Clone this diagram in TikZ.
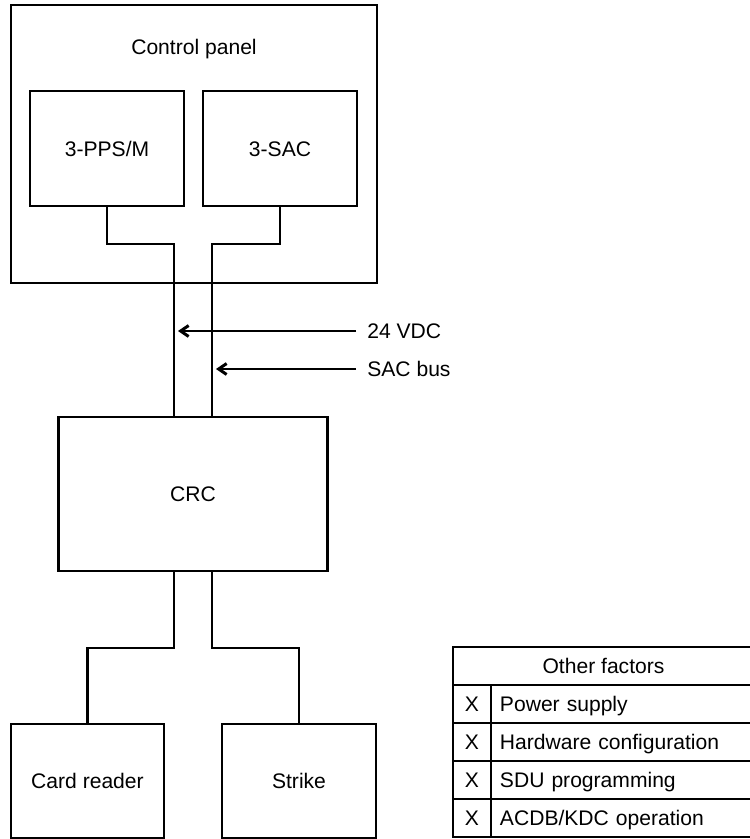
\documentclass[tikz,border=0pt]{standalone}
\usepackage{fontspec}
\setmainfont{Liberation Sans}
\usetikzlibrary{arrows.meta,positioning,calc}

\begin{document}
\begin{tikzpicture}[
  x=0.02cm, y=-0.02cm,
  txt/.style={font=\fontsize{12}{14}\selectfont, text height=8.6pt, text depth=0pt},
  box/.style={draw, rectangle, txt, line width=0.05cm, outer sep=0pt,
              minimum width=3.08cm, minimum height=2.3cm},
  cell/.style={box, minimum height=0.76cm},
  wire/.style={line width=0.05cm},
  arr/.style={-{Straight Barb[length=0.16cm,width=0.22cm,line width=0.06cm]}, line width=0.045cm},
  tag/.style={txt, inner sep=0pt, anchor=west}
]
\useasboundingbox (0,0) rectangle (750,839);

% Nodes
\node[box, minimum width=7.32cm, minimum height=5.56cm] (panel) at (194,144) {};
\node[txt] (paneltitle) at (194,47) {Control panel};
\node[box] (pps) at (107,148.5) {3-PPS/M};
\node[box] (sac) at (280,148.5) {3-SAC};
\node[box, minimum width=5.38cm, minimum height=3.08cm] (crc) at (193,494) {CRC};
\node[box, minimum width=3.06cm, minimum height=2.28cm] (reader) at (87.5,781) {Card reader};
\node[box, minimum height=2.28cm] (strike) at (299,781) {Strike};

% Wiring
\coordinate (pwrtop) at (174,244);
\coordinate (bustop) at (212,244);
\coordinate (pwrbot) at (174,648);
\coordinate (busbot) at (212,648);
\draw[wire] (pps.south) |- (pwrtop) -- (pwrtop |- crc.north);
\draw[wire] (sac.south) |- (bustop) -- (bustop |- crc.north);
\draw[wire] (pwrbot |- crc.south) -- (pwrbot) -| (reader.north);
\draw[wire] (busbot |- crc.south) -- (busbot) -| (strike.north);

% Signal labels
\node[tag] (vdc) at (367,331) {24 VDC};
\node[tag] (sacbus) at (367,369) {SAC bus};
\draw[arr] ($(vdc.west)+(-11,0)$) -- ($(vdc.west -| pwrtop)+(4,0)$);
\draw[arr] ($(sacbus.west)+(-11,0)$) -- ($(sacbus.west -| bustop)+(4,0)$);

% Other factors table (runs off the right edge)
\node[cell, minimum width=6.02cm] (factors) at (603.5,666) {Other factors};
\foreach \fac [count=\i] in {Power supply, Hardware configuration, SDU programming, ACDB/KDC operation} {
  \node[cell, minimum width=0.76cm] (x\i) at (472,{666+38*\i}) {X};
  \node[cell, text width=4.9cm, inner xsep=0.18cm, align=left, right=0pt of x\i] (f\i) {\fac};
}

\end{tikzpicture}
\end{document}
